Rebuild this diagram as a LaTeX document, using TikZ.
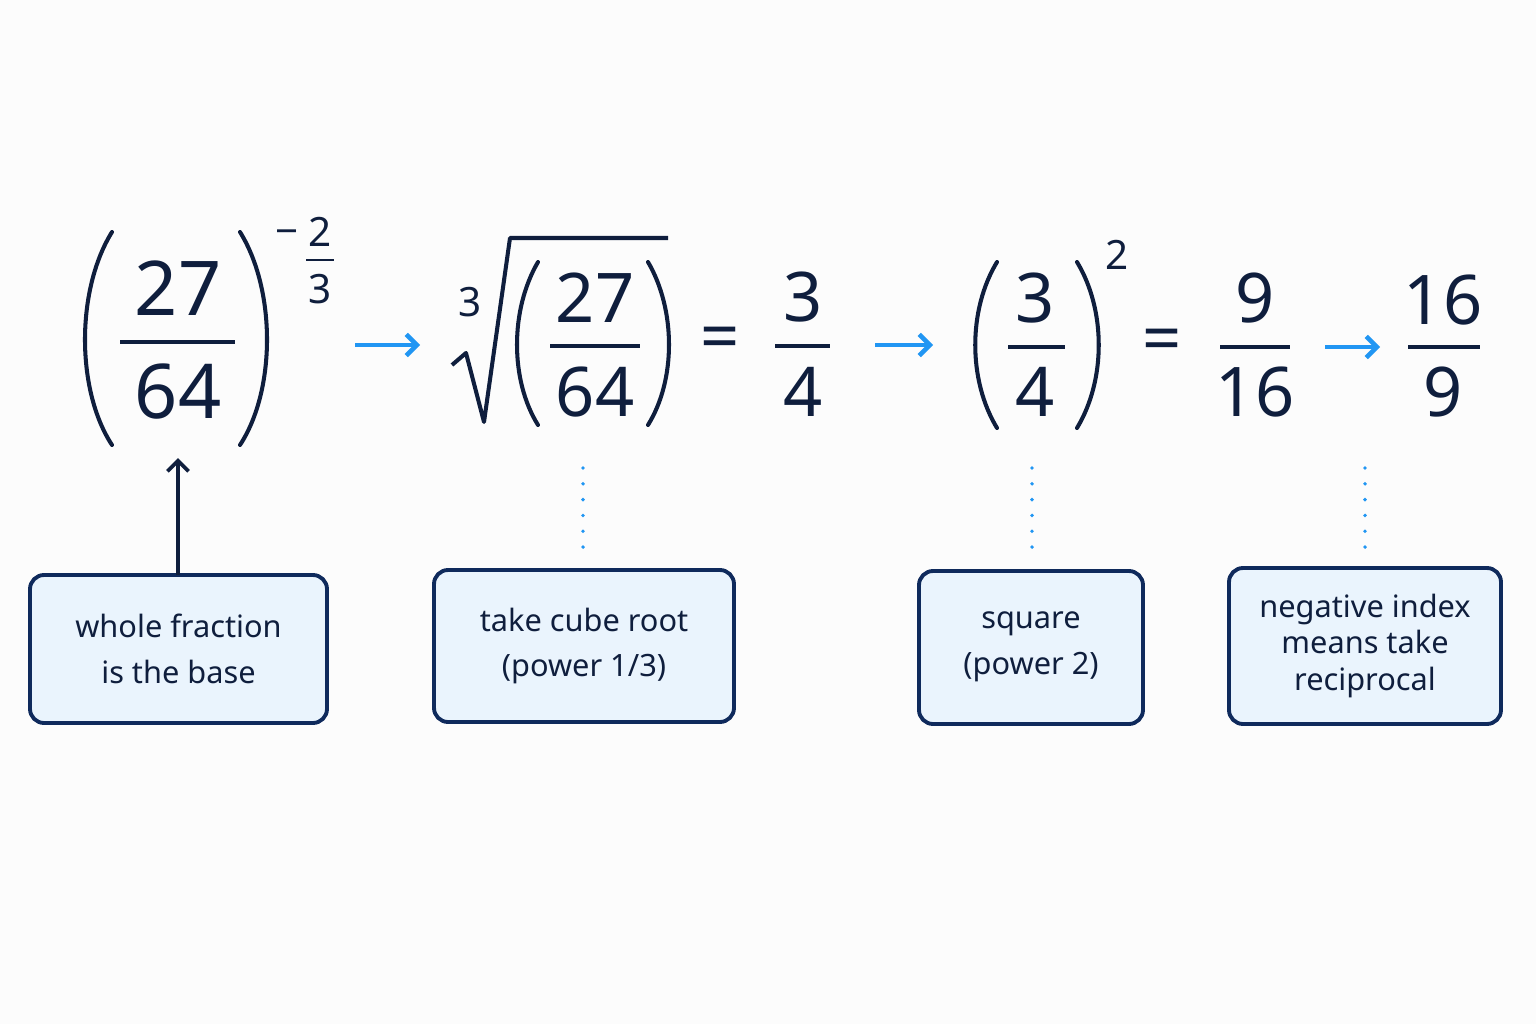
\documentclass[tikz,border=0pt]{standalone}
\usepackage{fontspec}
\setmainfont{Noto Sans}
\usetikzlibrary{arrows.meta}
\definecolor{navy}{HTML}{0F1E3D}
\definecolor{boxedge}{HTML}{0F2A5C}
\definecolor{boxfill}{HTML}{EAF4FD}
\definecolor{arr}{HTML}{2196F3}
\begin{document}
\begin{tikzpicture}[x=0.02cm,y=-0.02cm,
  big/.style={text=navy,font=\fontsize{43}{43}\selectfont,inner sep=0},
  mid/.style={text=navy,font=\fontsize{39}{39}\selectfont,inner sep=0},
  sm/.style={text=navy,font=\fontsize{23}{23}\selectfont,inner sep=0},
  bar/.style={navy,line width=2.2pt},
  par/.style={navy,line width=2.3pt,line cap=round},
  steparrow/.style={arr,line width=2.6pt,-{Straight Barb[length=6pt,width=12pt]}},
  dots/.style={arr,line width=2.2pt,line cap=round,dash pattern=on 0pt off 9pt},
  boxshape/.style={draw=boxedge,fill=boxfill,line width=2.2pt,rounded corners=8pt},
  boxtext/.style={text=navy,font=\fontsize{17.5}{24}\selectfont,align=center}]
\useasboundingbox (0,0) rectangle (1536,1024);
\fill[white!98!gray] (0,0) rectangle (1536,1024);
% first expression
\draw[par] (112,232) .. controls (76,290) and (76,390) .. (112,445);
\draw[par] (240,232) .. controls (276,290) and (276,390) .. (240,445);
\node[big] (n1) at (178,288) {27};
\node[big] (d1) at (178,392) {64};
\draw[bar] (120,342) -- (235,342);
\node[sm] (m1) at (287,238) {−};
\node[sm] (e2) at (320,232) {2};
\draw[navy,line width=1.6pt] (306,260) -- (334,260);
\node[sm] (e3) at (320,289) {3};
% cube root
\node[sm] (r3) at (470,302) {3};
\draw[navy,line width=2.3pt,line join=round] (452,365) -- (466,353) -- (484,422) -- (510,238) -- (668,238);
\draw[par] (538,262) .. controls (510,310) and (510,380) .. (538,425);
\draw[par] (648,262) .. controls (676,310) and (676,380) .. (648,425);
\node[mid] (n2) at (595,298) {27};
\draw[bar] (550,346) -- (640,346);
\node[mid] (d2) at (595,392) {64};
\node[mid] (eq1) at (720,344) {=};
\node[mid] (n3) at (803,297) {3};
\draw[bar] (775,346) -- (830,346);
\node[mid] (d3) at (803,392) {4};
% square
\draw[par] (997,262) .. controls (968,310) and (968,380) .. (997,428);
\draw[par] (1077,262) .. controls (1106,310) and (1106,380) .. (1077,428);
\node[mid] (n4) at (1035,298) {3};
\draw[bar] (1008,347) -- (1065,347);
\node[mid] (d4) at (1035,392) {4};
\node[sm] (sq) at (1117,255) {2};
\node[mid] (eq2) at (1162,346) {=};
\node[mid] (n5) at (1255,298) {9};
\draw[bar] (1220,347) -- (1290,347);
\node[mid] (d5) at (1255,392) {16};
\node[mid] (n6) at (1443,300) {16};
\draw[bar] (1408,347) -- (1480,347);
\node[mid] (d6) at (1443,392) {9};
% step arrows
\coordinate (a1) at (355,345); \coordinate (b1) at (420,345);
\coordinate (a2) at (875,345); \coordinate (b2) at (933,345);
\coordinate (a3) at (1325,347); \coordinate (b3) at (1380,347);
\draw[steparrow] (a1) -- (b1);
\draw[steparrow] (a2) -- (b2);
\draw[steparrow] (a3) -- (b3);
% boxes
\path[boxshape] (30,575) rectangle (327,723);
\node[boxtext] (t1) at (178.5,649) {whole fraction\\[2pt]is the base};
\path[boxshape] (434,570) rectangle (734,722);
\node[boxtext] (t2) at (584,646) {take cube root\\[2pt](power 1/3)};
\path[boxshape] (919,571) rectangle (1143,724);
\node[boxtext] (t3) at (1031,647) {square\\[2pt](power 2)};
\path[boxshape] (1229,568) rectangle (1501,724);
\node[boxtext,font=\fontsize{17.5}{21}\selectfont] (t4) at (1365,646) {negative index\\means take\\reciprocal};
% connectors
\coordinate (top1) at (178,575); \coordinate (tip1) at (178,458);
\draw[navy,line width=2.2pt,-{Straight Barb[length=6pt,width=12pt]}] (top1) -- (tip1);
\coordinate (p2) at (583,468); \coordinate (q2) at (583,557);
\coordinate (p3) at (1032,468); \coordinate (q3) at (1032,557);
\coordinate (p4) at (1365,468); \coordinate (q4) at (1365,557);
\draw[dots] (p2) -- (q2);
\draw[dots] (p3) -- (q3);
\draw[dots] (p4) -- (q4);
\end{tikzpicture}
\end{document}
